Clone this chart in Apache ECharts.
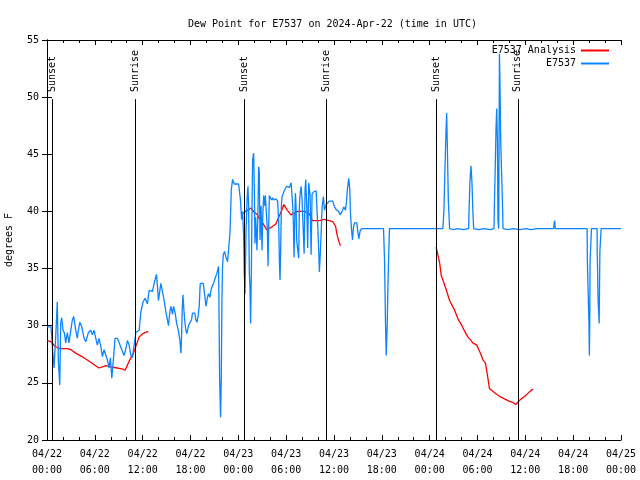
<!DOCTYPE html>
<html>
<head>
<meta charset="utf-8">
<script src="https://cdn.jsdelivr.net/npm/echarts@6/dist/echarts.min.js"></script>
<style>html,body{margin:0;padding:0;background:#fff}#c{width:640px;height:480px}</style>
</head>
<body>
<div id="c"></div>
<script>
// x values are hours since 2024-04-22 00:00 UTC
const xTickLabels = ['04/22\n00:00','04/22\n06:00','04/22\n12:00','04/22\n18:00','04/23\n00:00','04/23\n06:00','04/23\n12:00','04/23\n18:00','04/24\n00:00','04/24\n06:00','04/24\n12:00','04/24\n18:00','04/25\n00:00'];
const yTicks = [20,25,30,35,40,45,50,55];

const sunEvents = [[0.65,'Sunset'],[11.08,'Sunrise'],[24.74,'Sunset'],[35.0,'Sunrise'],[48.79,'Sunset'],[59.05,'Sunrise']];

const analysisSeries = [
[0.0,28.7],[0.5,28.6],[0.67,28.5],[1.0,28.2],[1.6,28.0],[2.55,28.0],[3.0,27.9],[3.6,27.6],[4.4,27.3],[5.06,27.0],[5.7,26.7],[6.5,26.3],[6.95,26.4],[7.4,26.5],[8.0,26.4],[8.8,26.3],[9.5,26.2],[9.8,26.1],[10.3,26.9],[10.85,27.6],[11.2,28.3],[11.55,29.0],[12.0,29.3],[12.3,29.4],[12.7,29.5],
[13.0,null],
[24.5,39.8],[24.9,40.0],[25.6,40.3],[25.9,40.0],[26.4,39.7],[26.6,39.4],[27.05,39.0],[27.55,38.4],[28.1,38.6],[28.7,38.9],[28.95,39.0],[29.2,39.7],[29.45,40.1],[29.7,40.6],[30.15,40.1],[30.6,39.7],[31.45,40.0],[32.3,40.0],[32.9,39.8],[33.3,39.2],[34.2,39.2],[34.8,39.3],[35.4,39.2],[35.85,39.1],[36.2,38.7],[36.4,37.9],[36.6,37.4],[36.8,37.0],
[37.0,null],
[48.8,36.9],[49.0,36.3],[49.25,35.5],[49.45,34.4],[49.66,34.0],[50.1,33.1],[50.5,32.2],[50.8,31.8],[51.1,31.4],[51.55,30.6],[51.97,30.1],[52.4,29.5],[52.8,29.0],[53.2,28.7],[53.4,28.5],[53.9,28.3],[54.3,27.7],[54.7,27.0],[55.0,26.7],[55.24,25.7],[55.5,24.5],[55.7,24.4],[56.4,24.0],[56.8,23.8],[57.4,23.6],[57.95,23.4],[58.4,23.3],[58.8,23.1],[59.1,23.35],[59.5,23.6],[59.9,23.8],[60.35,24.1],[60.8,24.4],[61.0,24.4]
];

const stationSeries = [
[0.0,29.9],[0.5,29.9],[0.67,28.2],[0.88,26.3],[1.09,29.0],[1.29,32.1],[1.42,27.0],[1.6,24.8],[1.72,30.2],[1.85,30.7],[2.01,29.6],[2.17,29.4],[2.35,28.5],[2.55,29.4],[2.76,28.5],[2.98,29.6],[3.18,30.5],[3.35,30.8],[3.61,29.6],[3.81,28.9],[3.93,29.6],[4.11,30.3],[4.36,29.9],[4.65,28.9],[4.86,28.6],[5.19,29.4],[5.49,29.6],[5.69,29.2],[5.9,29.6],[6.12,28.9],[6.32,28.3],[6.53,28.9],[6.75,28.2],[6.95,27.3],[7.16,27.9],[7.58,27.0],[7.79,26.3],[7.95,27.2],[8.13,25.4],[8.29,26.7],[8.54,28.9],[8.83,28.9],[9.05,28.5],[9.38,27.9],[9.67,27.4],[9.89,28.0],[10.09,28.7],[10.3,28.3],[10.52,27.4],[10.72,27.2],[10.93,28.3],[11.14,29.4],[11.56,29.6],[11.77,31.2],[12.06,32.1],[12.31,32.4],[12.6,31.9],[12.81,33.1],[13.23,33.0],[13.44,33.7],[13.73,34.5],[13.86,33.4],[13.98,32.2],[14.16,33.1],[14.28,33.7],[14.48,33.8],[14.7,32.2],[14.91,31.2],[15.11,30.5],[15.24,30.0],[15.41,31.2],[15.54,31.7],[15.74,31.0],[15.87,31.7],[16.08,31.1],[16.24,30.3],[16.42,30.3],[16.5,29.5],[16.67,28.7],[16.8,27.6],[16.87,28.9],[16.96,31.4],[17.05,32.7],[17.17,31.4],[17.3,30.3],[17.42,29.6],[17.55,29.3],[17.75,30.0],[17.93,30.3],[18.13,30.5],[18.25,31.1],[18.55,31.1],[18.68,30.5],[18.81,30.3],[18.97,30.9],[19.1,31.8],[19.22,33.7],[19.6,33.7],[19.76,32.8],[19.94,31.7],[20.1,32.4],[20.26,32.8],[20.44,32.5],[20.57,33.1],[20.69,33.4],[20.89,33.7],[21.11,34.2],[21.32,34.6],[21.45,35.0],[21.52,35.2],[21.57,32.0],[21.65,25.4],[21.77,22.0],[21.86,25.4],[21.94,32.2],[22.02,35.2],[22.11,36.2],[22.27,36.5],[22.45,36.0],[22.65,35.6],[22.77,35.5],[22.95,38.1],[23.12,41.9],[23.28,42.8],[23.49,42.4],[24.03,42.4],[24.12,41.9],[24.28,40.9],[24.41,39.3],[24.54,40.0],[24.66,37.9],[24.75,34.6],[24.84,32.8],[24.96,38.1],[25.09,41.0],[25.21,42.2],[25.29,40.5],[25.38,34.6],[25.46,33.4],[25.54,30.2],[25.63,34.6],[25.72,40.5],[25.79,44.5],[25.92,45.1],[26.01,41.9],[26.09,37.2],[26.17,39.5],[26.26,38.1],[26.34,36.6],[26.47,40.5],[26.55,43.9],[26.63,43.4],[26.72,37.5],[26.85,40.5],[26.97,36.6],[27.05,39.2],[27.17,41.4],[27.3,40.5],[27.39,41.4],[27.55,41.4],[27.64,38.4],[27.73,35.2],[27.8,38.4],[27.89,41.4],[28.02,41.4],[28.18,41.0],[28.31,41.2],[28.43,41.0],[28.52,40.9],[28.73,41.1],[28.93,40.9],[29.06,39.1],[29.15,35.7],[29.23,34.0],[29.31,36.6],[29.4,40.5],[29.48,41.3],[29.65,41.6],[29.81,41.9],[30.06,42.2],[30.4,42.1],[30.62,42.5],[30.74,42.4],[30.82,40.5],[30.9,39.0],[30.99,36.0],[31.07,39.0],[31.16,41.6],[31.24,40.5],[31.32,37.5],[31.41,36.9],[31.57,35.9],[31.66,40.5],[31.75,41.6],[31.87,42.2],[32.0,41.0],[32.12,38.7],[32.25,36.3],[32.37,41.9],[32.45,42.8],[32.58,40.5],[32.7,36.8],[32.83,42.5],[33.0,41.4],[33.13,36.2],[33.25,41.5],[33.42,41.7],[33.76,41.8],[33.96,38.7],[34.08,36.6],[34.17,34.7],[34.3,36.6],[34.42,38.7],[34.51,40.4],[34.67,41.3],[34.8,40.1],[35.01,40.6],[35.21,40.7],[35.43,40.9],[35.84,40.9],[36.06,40.4],[36.34,40.1],[36.6,40.0],[36.77,39.7],[37.02,40.0],[37.22,40.4],[37.44,40.1],[37.56,40.8],[37.69,42.0],[37.85,42.9],[37.98,41.9],[38.07,39.8],[38.19,38.5],[38.32,37.5],[38.44,38.6],[38.57,39.0],[38.86,39.0],[38.98,38.3],[39.11,37.6],[39.28,38.3],[39.45,38.5],
[42.21,38.5],[42.34,35.7],[42.46,30.2],[42.55,27.4],[42.68,30.2],[42.75,33.0],[42.88,36.6],[42.96,38.5],
[48.8,38.5],[49.0,38.4],[49.3,38.5],[49.66,38.5],[49.79,40.1],[49.91,43.5],[50.04,46.8],[50.13,48.6],[50.21,46.0],[50.34,41.0],[50.5,38.5],[51.0,38.4],[51.5,38.5],[52.2,38.4],[52.89,38.5],[52.93,39.8],[53.05,42.6],[53.18,44.0],[53.3,42.6],[53.43,39.8],[53.52,38.5],[54.2,38.4],[54.8,38.5],[55.6,38.4],[56.07,38.5],[56.11,40.3],[56.24,44.3],[56.32,47.2],[56.41,49.0],[56.5,46.2],[56.57,39.2],[56.66,38.5],[56.75,53.8],[56.82,51.2],[56.91,46.2],[57.04,46.2],[57.12,41.0],[57.2,38.5],[57.8,38.4],[58.5,38.5],[59.3,38.4],[60.1,38.5],[60.7,38.4],[61.5,38.5],[63.55,38.5],[63.62,39.0],[63.68,39.2],[63.75,38.5],
[67.75,38.5],[67.78,35.7],[67.95,35.7],[67.98,30.2],[68.03,27.4],[68.08,30.2],[68.12,35.7],[68.28,35.7],[68.3,38.5],
[69.0,38.5],[69.02,36.5],[69.13,32.2],[69.26,30.2],[69.35,36.5],[69.51,38.5],[72.0,38.5]
];

const FONT = 'DejaVu Sans Mono';
const LINE_TOP = 49.83;

const chart = echarts.init(document.getElementById('c'), null, {renderer: 'canvas'});

const tickCommon = {
  axisLine: {show: true, lineStyle: {color: '#000', width: 1}},
  splitLine: {show: false}
};

const option = {
  animation: false,
  backgroundColor: '#fff',
  textStyle: {fontFamily: FONT},
  title: {
    text: 'Dew Point for E7537 on 2024-Apr-22 (time in UTC)',
    left: 183, top: 14,
    textStyle: {fontFamily: FONT, fontSize: 10, fontWeight: 'normal', color: '#000'}
  },
  legend: {
    orient: 'vertical',
    right: 30, top: 44, padding: 0,
    align: 'right',
    itemWidth: 28, itemHeight: 13, itemGap: 0,
    itemStyle: {opacity: 0},
    textStyle: {fontFamily: FONT, fontSize: 10, color: '#000', lineHeight: 13},
    data: ['E7537 Analysis', 'E7537']
  },
  grid: {left: 47, right: 19, top: 40, bottom: 40, containLabel: false, outerBoundsMode: 'none'},
  xAxis: [
    Object.assign({
      type: 'value', min: 0, max: 72, interval: 6, position: 'bottom',
      axisTick: {show: true, inside: true, length: 5, lineStyle: {color: '#000'}},
      minorTick: {show: true, splitNumber: 3, length: 3, lineStyle: {color: '#000'}},
      axisLabel: {
        show: true, margin: 6, color: '#000', fontFamily: FONT, fontSize: 10, lineHeight: 16,
        formatter: function (v) { return xTickLabels[Math.round(v / 6)]; }
      }
    }, tickCommon),
    Object.assign({
      type: 'value', min: 0, max: 72, interval: 6, position: 'top',
      axisTick: {show: true, inside: true, length: 5, lineStyle: {color: '#000'}},
      minorTick: {show: true, splitNumber: 3, length: 3, lineStyle: {color: '#000'}},
      axisLabel: {show: false}
    }, tickCommon)
  ],
  yAxis: [
    Object.assign({
      type: 'value', min: yTicks[0], max: yTicks[yTicks.length - 1], interval: 5, position: 'left',
      name: 'degrees F', nameLocation: 'middle', nameGap: 33, nameRotate: 90,
      nameTextStyle: {fontFamily: FONT, fontSize: 10, color: '#000'},
      axisTick: {show: true, inside: true, length: 5, lineStyle: {color: '#000'}},
      axisLabel: {show: true, margin: 8, color: '#000', fontFamily: FONT, fontSize: 10}
    }, tickCommon),
    Object.assign({
      type: 'value', min: yTicks[0], max: yTicks[yTicks.length - 1], interval: 5, position: 'right',
      axisTick: {show: true, inside: true, length: 5, lineStyle: {color: '#000'}},
      axisLabel: {show: false}
    }, tickCommon)
  ],
  series: [
    {
      name: 'E7537 Analysis', type: 'line', xAxisIndex: 0, yAxisIndex: 0,
      data: analysisSeries, symbol: 'none', connectNulls: false,
      lineStyle: {color: '#ff0000', width: 1.3}, itemStyle: {color: '#ff0000'},
      z: 2,
      markLine: {
        silent: true, symbol: ['none', 'none'],
        label: {show: false},
        lineStyle: {color: '#000', width: 1, type: 'solid'},
        data: sunEvents.map(function (e) {
          return [{coord: [e[0], 20]}, {coord: [e[0], LINE_TOP]}];
        })
      }
    },
    {
      name: 'E7537', type: 'line', xAxisIndex: 0, yAxisIndex: 0,
      data: stationSeries, symbol: 'none',
      lineStyle: {color: '#0a84ff', width: 1.3}, itemStyle: {color: '#0a84ff'},
      z: 3,
      markLine: {
        silent: true, symbol: ['none', 'none'],
        lineStyle: {color: 'rgba(0,0,0,0)', width: 1, type: 'solid'},
        label: {
          show: true, position: 'insideStart', distance: 7, opacity: 1,
          fontFamily: FONT, fontSize: 10, color: '#000',
          formatter: function (p) { return p.name || (p.data && p.data.name) || ''; }
        },
        data: sunEvents.map(function (e) {
          return [{name: e[1], coord: [e[0], LINE_TOP]}, {name: e[1], coord: [e[0], 55]}];
        })
      }
    }
  ]
};
chart.setOption(option);
</script>
</body>
</html>
